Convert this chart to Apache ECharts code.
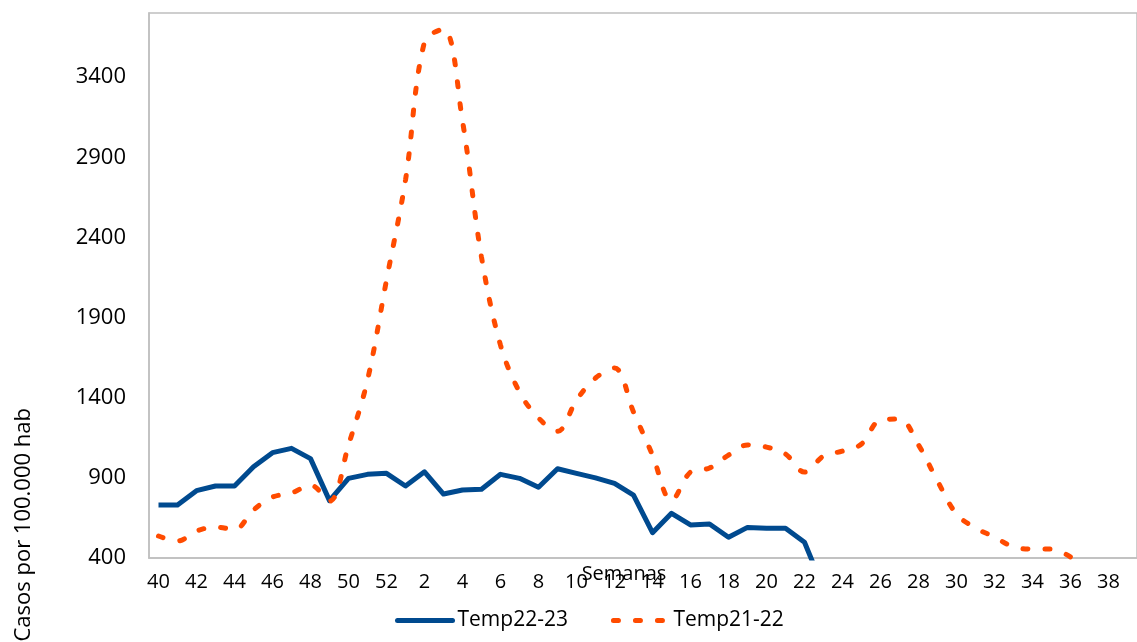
<!DOCTYPE html>
<html lang="es">
<head>
    <meta charset="UTF-8">
    <title>Casos por semana</title>
    <script src="https://cdn.jsdelivr.net/npm/echarts@6.0.0/dist/echarts.min.js"></script>
</head>
<body style="margin:0">
<div id="main" style="width: 1137px;height:642px;"></div>
<script>
    // semanas epidemiologicas (40 a 52, luego 1 a 39)
    var semanas = ['40','41','42','43','44','45','46','47','48','49','50','51','52',
        '1','2','3','4','5','6','7','8','9','10','11','12','13','14','15','16','17','18','19','20',
        '21','22','23','24','25','26','27','28','29','30','31','32','33','34','35','36','37','38','39'];

    // Temporada 22-23
    var temp2223 = [731, 731, 820, 849, 849, 969, 1057, 1084, 1020, 758, 897, 922, 928,
        849, 938, 799, 824, 829, 922, 897, 841, 957, 928, 900, 866, 793, 558, 679, 606, 612, 529, 591, 585,
        585, 498, 210, null, null, null, null, null, null, null, null, null, null, null, null, null, null, null, null];

    // Temporada 21-22
    var temp2122 = [537, 506, 568, 593, 578, 700, 780, 805, 855, 755, 1105, 1510, 2134,
        2758, 3620, 3700, 3126, 2277, 1728, 1435, 1273, 1190, 1385, 1523, 1585, 1311, 1042, 758, 936, 961, 1042, 1105, 1092,
        1049, 936, 1036, 1067, 1111, 1261, 1267, 1105, 880, 674, 587, 531, 469, 456, 456, 406, null, null, null];

    var fuente = '"Open Sans", sans-serif';
    var myChart = echarts.init(document.getElementById('main'));

    var option = {
        animation: false,
        backgroundColor: '#fff',
        textStyle: { fontFamily: fuente },
        grid: {
            show: true,
            left: 149,
            top: 13,
            width: 996,
            height: 545,
            borderColor: '#bfbfbf',
            borderWidth: 1.5
        },
        legend: {
            bottom: 11,
            left: 395,
            padding: 0,
            itemWidth: 55,
            itemHeight: 14,
            itemGap: 43,
            itemStyle: { opacity: 0 },
            lineStyle: { width: 5, cap: 'round' },
            textStyle: { fontFamily: fuente, fontSize: 21, color: '#000' },
            data: ['Temp22-23', 'Temp21-22']
        },
        xAxis: {
            type: 'category',
            data: semanas,
            name: 'Semanas',
            nameLocation: 'middle',
            nameGap: 6,
            nameMoveOverlap: false,
            nameTextStyle: { fontSize: 20, color: '#000', padding: [0, 38, 0, 0] },
            axisLine: { lineStyle: { color: '#bfbfbf', width: 1.5 } },
            axisTick: { show: false },
            axisLabel: { interval: 1, margin: 14, fontSize: 20, color: '#000' }
        },
        yAxis: {
            type: 'value',
            min: 400,
            max: 3800,
            interval: 500,
            splitLine: { show: false },
            axisLine: { show: true, lineStyle: { color: '#bfbfbf', width: 1.5 } },
            axisTick: { show: false },
            axisLabel: {
                showMaxLabel: false,
                margin: 23,
                fontSize: 22,
                color: '#000',
                formatter: function (v) { return String(v); }
            }
        },
        graphic: [{
            type: 'text',
            x: 24,
            y: 408,
            rotation: Math.PI / 2,
            style: {
                text: 'Casos por 100.000 hab',
                font: '22px "Open Sans", sans-serif',
                fill: '#000',
                align: 'right',
                verticalAlign: 'middle'
            }
        }],
        series: [
            {
                name: 'Temp22-23',
                type: 'line',
                data: temp2223,
                symbol: 'none',
                color: '#004a8f',
                lineStyle: { width: 5, color: '#004a8f', join: 'round' }
            },
            {
                name: 'Temp21-22',
                type: 'line',
                data: temp2122,
                symbol: 'none',
                smooth: 0.35,
                color: '#ff4b00',
                lineStyle: { width: 5, color: '#ff4b00', type: [5, 17], cap: 'round' }
            }
        ]
    };

    myChart.setOption(option);
</script>
</body>
</html>
